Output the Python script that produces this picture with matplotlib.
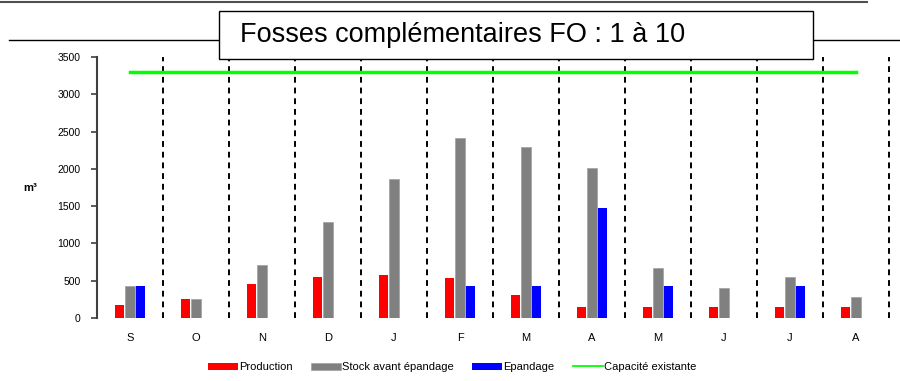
import matplotlib
matplotlib.use("Agg")
import matplotlib.pyplot as plt
from matplotlib.patches import Rectangle
from matplotlib.lines import Line2D
import numpy as np

plt.rcParams['font.family'] = ['Liberation Sans', 'DejaVu Sans']

months = ['S', 'O', 'N', 'D', 'J', 'F', 'M', 'A', 'M', 'J', 'J', 'A']
production = [170, 250, 450, 555, 570, 530, 315, 150, 150, 150, 150, 150]
stock = [435, 250, 715, 1285, 1870, 2410, 2290, 2005, 675, 400, 555, 275]
epandage = [435, 0, 0, 0, 0, 435, 435, 1480, 435, 0, 435, 0]
capacite = 3300
title = "Fosses complémentaires FO : 1 à 10"
yticks = [0, 500, 1000, 1500, 2000, 2500, 3000, 3500]

fig = plt.figure(figsize=(9, 3.81), dpi=100)
W, H = 900, 381
ax = fig.add_axes([97 / W, 1 - 318 / H, (889 - 97) / W, (318 - 57) / H])

x = np.arange(len(months)) + 0.5
bw = 0.14
off = 0.16
b1 = ax.bar(x - off, production, bw, color='#FF0000', zorder=3)
b2 = ax.bar(x, stock, bw, color='#808080', edgecolor='#A0A0A0', linewidth=0.5, zorder=3)
b3 = ax.bar(x + off, epandage, bw, color='#0000FF', zorder=3)
ax.plot(x, [capacite] * len(months), color='#00FF00', lw=2.5, zorder=4)
l1 = Line2D([], [], color='#00FF00', lw=1.3)

for b in range(1, len(months) + 1):
    ax.axvline(b, color='black', lw=1.4, ls=(0, (3, 2.5)), zorder=2, clip_on=False)

ax.set_xlim(0, len(months))
ax.set_ylim(0, 3500)
ax.set_yticks(yticks)
ax.set_yticklabels([str(v) for v in yticks], fontsize=7.5)
ax.set_xticks(x)
ax.set_xticklabels(months, fontsize=8)
ax.tick_params(axis='x', length=0, pad=11)
ax.tick_params(axis='y', length=4, width=1.2, color='#404040', pad=8)
for s in ['top', 'right', 'bottom']:
    ax.spines[s].set_visible(False)
ax.spines['left'].set_color('#404040')
ax.spines['left'].set_linewidth(1.5)
ax.patch.set_alpha(0)

fig.text(30 / W, 1 - 188 / H, 'm³', fontsize=8, fontweight='bold',
         ha='center', va='center')

# header decorations
fig.add_artist(Line2D([0, 867 / W], [1 - 2 / H, 1 - 2 / H], color='#505050', lw=1.5))
fig.add_artist(Line2D([9 / W, 219 / W], [1 - 40 / H, 1 - 40 / H], color='black', lw=1.0))
fig.add_artist(Line2D([813 / W, 1.0], [1 - 40 / H, 1 - 40 / H], color='black', lw=1.0))
fig.add_artist(Rectangle((219 / W, 1 - 59 / H), (813 - 219) / W, 48 / H,
                         transform=fig.transFigure, facecolor='white',
                         edgecolor='black', lw=1.0, zorder=5))
fig.text(240 / W, 1 - 35 / H, title, fontsize=19.5, ha='left', va='center', zorder=6)

leg = fig.legend([b1, b2, b3, l1],
                 ['Production', 'Stock avant épandage', 'Epandage', 'Capacité existante'],
                 loc='center', bbox_to_anchor=(452 / W, 1 - 367 / H),
                 ncol=4, frameon=False, fontsize=8, handlelength=2.7,
                 handleheight=0.6, handletextpad=0.05, columnspacing=1.7)

fig.savefig('out.png', dpi=100)
